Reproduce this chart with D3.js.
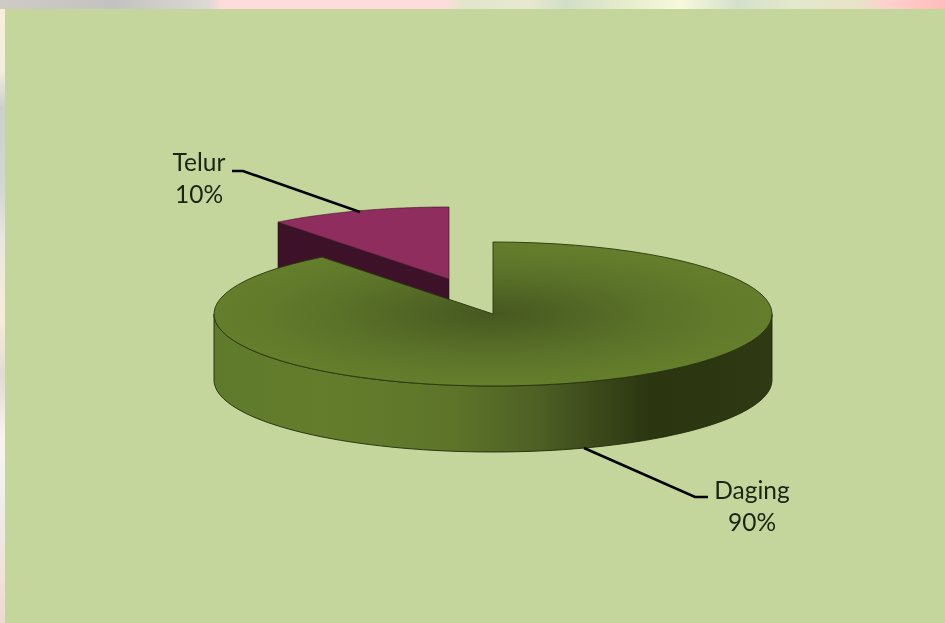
<!DOCTYPE html>
<html lang="en">
<head>
  <meta charset="UTF-8">
  <title>Daging dan Telur</title>
  <script src="https://d3js.org/d3.v7.min.js"></script>
  <style>
    html, body {
      margin: 0;
      width: 945px;
      height: 623px;
      overflow: hidden;
      background-color: #f4eee6;
    }
    svg {
      display: block;
    }
    #chart {
      filter: blur(0.45px); /* the source is a slightly soft screenshot */
    }
    text {
      font-family: Lato, "Open Sans", sans-serif;
      font-size: 24.5px;
      fill: #1c2414;
    }
  </style>
</head>
<body>
  <svg id="canvas" width="945" height="623"></svg>

  <script>
    // values as printed on the chart labels
    const categories = ['Daging', 'Telur'];
    const shares = [90, 10];

    const sliceColors = ['#647e2c', '#8e2d5e'];
    const wallColors = ['#5f7a2b', '#3d1229'];

    // torn background photo showing above and left of the slide panel
    const stripStops = [
      [0, '#cfcac6'], [0.12, '#c4c2c0'], [0.22, '#dcd8d4'], [0.235, '#ffdcdc'], [0.47, '#ffdcdc'],
      [0.49, '#e2e6cc'], [0.56, '#e8e8d0'], [0.6, '#d2dec8'], [0.66, '#e6eccc'], [0.72, '#f8f8dc'],
      [0.78, '#d4e0cc'], [0.84, '#e4e8cc'], [0.91, '#e8e2c8'], [0.94, '#ffd0cc'], [1, '#ffbcbc']
    ];
    const edgeStops = [
      [0, '#f8eedc'], [0.1, '#f2eee0'], [0.16, '#ccd0cc'], [0.3, '#d4d8d4'], [0.38, '#e8e8e0'],
      [0.5, '#f8ecdc'], [0.6, '#e0dcd4'], [0.7, '#f8f4f0'], [0.8, '#eeeeee'], [0.9, '#f0e4dc'], [1, '#f0d8d4']
    ];

    const canvas = d3.select('#canvas');
    const defs = canvas.append('defs');

    const cx = 493, cy = 314, rx = 279, ry = 72, depth = 66;
    const explode = { x: -44, y: -35 }; // Telur is pulled out of the pie

    // excel's perspective squeezes the angles a little off the axes
    const view = a => a + 0.033 * Math.sin(2 * a);
    const px = (a, ox) => ox + rx * Math.sin(view(a));
    const py = (a, oy) => oy - ry * Math.cos(view(a));

    const line = d3.line();
    const arcPoints = (a0, a1, ox, oy) =>
      d3.range(0, 81).map(i => {
        const a = a0 + (a1 - a0) * i / 80;
        return [px(a, ox), py(a, oy)];
      });

    const addStops = (grad, stops) => {
      grad.selectAll('stop').data(stops).enter().append('stop')
        .attr('offset', d => d[0])
        .attr('stop-color', d => d[1]);
    };

    addStops(defs.append('linearGradient').attr('id', 'strip'), stripStops);
    addStops(defs.append('linearGradient').attr('id', 'edge')
      .attr('x1', 0).attr('x2', 0).attr('y1', 0).attr('y2', 1), edgeStops);
    addStops(defs.append('radialGradient').attr('id', 'topFill'), [
      [0, '#47581f'], [0.25, '#4f6324'], [0.55, '#5a7128'], [0.85, '#627b2b'], [1, sliceColors[0]]
    ]);
    addStops(defs.append('linearGradient').attr('id', 'sideFill'), [
      [0, wallColors[0]], [0.2, '#637d2c'], [0.42, '#5e7529'], [0.58, '#4e6024'],
      [0.68, '#3c4a1b'], [0.78, '#2b3611'], [0.88, '#2c3712'], [1, '#2f3a14']
    ]);

    canvas.append('rect').attr('width', 945).attr('height', 9).attr('fill', 'url(#strip)');
    canvas.append('rect').attr('y', 9).attr('width', 5).attr('height', 614).attr('fill', 'url(#edge)');
    canvas.append('rect').attr('x', 5).attr('y', 9).attr('width', 940).attr('height', 614).attr('fill', '#c4d69b');

    const chart = canvas.append('g').attr('id', 'chart');

    const pie = d3.pie().sort(null)(shares);
    const daging = pie[0];
    const telur = pie[1];

    // Telur, behind the main piece
    const tx = cx + explode.x, ty = cy + explode.y;
    const telurStart = [px(telur.startAngle, tx), py(telur.startAngle, ty)];
    chart.append('path')
      .attr('d', line([telurStart, [tx, ty], [tx, ty + depth], [telurStart[0], telurStart[1] + depth]]) + 'Z')
      .attr('fill', wallColors[1])
      .attr('stroke', '#2a0c1c')
      .attr('stroke-width', 0.6);
    chart.append('path')
      .attr('d', line([[tx, ty]].concat(arcPoints(telur.startAngle, telur.endAngle, tx, ty))) + 'Z')
      .attr('fill', sliceColors[1])
      .attr('stroke', '#4a1832')
      .attr('stroke-width', 0.7);

    // Daging side wall, only the front half shows
    const front = arcPoints(Math.PI / 2, 3 * Math.PI / 2, cx, cy);
    const frontLow = front.map(d => [d[0], d[1] + depth]).reverse();
    chart.append('path')
      .attr('d', line(front.concat(frontLow)) + 'Z')
      .attr('fill', 'url(#sideFill)')
      .attr('stroke', '#1f2a0c')
      .attr('stroke-width', 0.9);

    // Daging top
    chart.append('path')
      .attr('d', line([[cx, cy]].concat(arcPoints(daging.startAngle, daging.endAngle, cx, cy))) + 'Z')
      .attr('fill', 'url(#topFill)')
      .attr('stroke', '#2a3510')
      .attr('stroke-width', 0.9);

    // leader lines
    const leaders = [
      [[232, 171], [243, 171], [360, 212]],
      [[708, 497], [695, 497], [584, 448]]
    ];
    chart.selectAll('.leader').data(leaders).enter().append('path')
      .attr('class', 'leader')
      .attr('d', line)
      .attr('fill', 'none')
      .attr('stroke', '#000')
      .attr('stroke-width', 2.6);

    // labels, drawn from the same arrays
    const labelPos = [[752, 499], [199, 171]];
    categories.forEach((name, i) => {
      const t = chart.append('text').attr('text-anchor', 'middle');
      t.append('tspan').attr('x', labelPos[i][0]).attr('y', labelPos[i][1]).text(name);
      t.append('tspan').attr('x', labelPos[i][0]).attr('y', labelPos[i][1] + 32).text(shares[i] + '%');
    });
  </script>
</body>
</html>
